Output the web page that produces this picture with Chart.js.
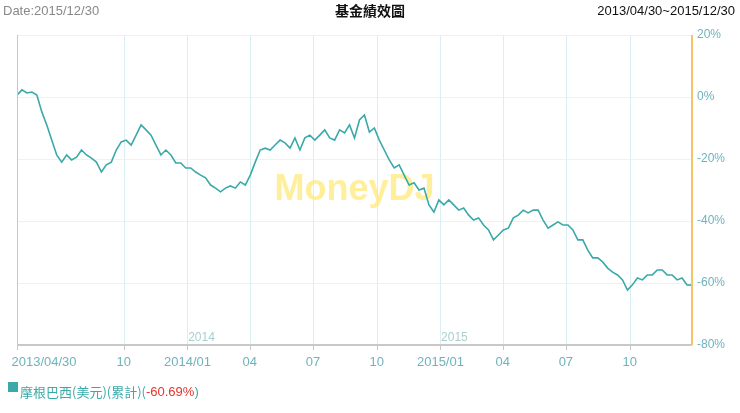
<!DOCTYPE html>
<html><head><meta charset="utf-8">
<script src="https://cdn.jsdelivr.net/npm/chart.js@4"></script>
<style>html,body{margin:0;padding:0;background:#fff}#w{width:740px;height:413px;position:relative}</style>
</head><body><div id="w"><canvas id="c"></canvas></div>
<script>
const seriesName='摩根巴西(美元)(累計)';
const lastReturn='-60.69%';
const values=[0.6,2.3,1.3,1.6,0.6,-4.8,-9.0,-13.9,-18.7,-21.0,-18.7,-20.3,-19.4,-17.1,-18.7,-19.7,-21.0,-24.2,-21.9,-21.0,-17.1,-14.5,-13.9,-15.5,-12.3,-9.0,-10.6,-12.3,-15.5,-18.7,-17.1,-18.7,-21.3,-21.3,-22.9,-22.9,-24.2,-25.2,-26.1,-28.4,-29.4,-30.6,-29.4,-28.7,-29.4,-27.4,-28.4,-25.2,-21.0,-17.1,-16.5,-17.1,-15.5,-13.9,-14.8,-16.5,-13.2,-17.1,-13.2,-12.3,-13.9,-12.3,-10.6,-13.2,-13.9,-10.6,-11.6,-9.0,-13.2,-7.4,-5.8,-11.3,-10.0,-13.9,-17.1,-20.3,-22.9,-21.9,-25.2,-28.4,-27.7,-30.0,-29.4,-34.8,-37.1,-33.2,-34.8,-33.2,-34.8,-36.5,-35.8,-38.1,-39.7,-39.0,-41.3,-42.9,-46.1,-44.5,-42.9,-42.3,-39.0,-38.1,-36.5,-37.4,-36.5,-36.5,-39.7,-42.3,-41.3,-40.3,-41.3,-41.3,-42.9,-46.1,-46.1,-49.4,-51.9,-51.9,-53.2,-55.2,-56.5,-57.4,-59.0,-62.3,-60.6,-58.4,-59.0,-57.4,-57.4,-55.8,-55.8,-57.4,-57.4,-59.0,-58.4,-60.6,-60.69];
const tickFractions=[0,154/974,246/974,336/974,427/974,519/974,611/974,701/974,792/974,884/974];
const tickLabels=['2013/04/30','10','2014/01','04','07','10','2015/01','04','07','10'];
const yTicks=[20,0,-20,-40,-60,-80];
const yearLabels=['2014','2015'];
const yearFractions=[246/974,611/974];

const N=values.length-1;
const pts=values.map((v,i)=>({x:i,y:v}));
const deco={id:'deco',
 beforeDatasetsDraw(ch){const c=ch.ctx,a=ch.chartArea,xs=ch.scales.x,ys=ch.scales.y;c.save();
  c.strokeStyle='#f1f1f1';c.lineWidth=1;
  yTicks.forEach(t=>{const y=Math.round(ys.getPixelForValue(t))+0.5;c.beginPath();c.moveTo(a.left,y);c.lineTo(a.right,y);c.stroke();});
  c.strokeStyle='#d9eff1';
  tickFractions.forEach(f=>{const x=Math.round(xs.getPixelForValue(f*N))+0.5;c.beginPath();c.moveTo(x,a.top);c.lineTo(x,a.bottom);c.stroke();});
  c.fillStyle='rgba(255,232,120,0.75)';c.font='bold 36px Arial, "Liberation Sans", sans-serif';c.textAlign='center';c.textBaseline='middle';
  c.fillText('MoneyDJ',(a.left+a.right)/2,190);
  c.fillStyle='#a9cfcf';c.font='12px "Liberation Sans", Arial, sans-serif';c.textBaseline='bottom';
  yearFractions.forEach((f,i)=>c.fillText(yearLabels[i],xs.getPixelForValue(f*N)+14,a.bottom-1));
  c.restore();},
 afterDatasetsDraw(ch){const c=ch.ctx,a=ch.chartArea,xs=ch.scales.x,ys=ch.scales.y;c.save();
  c.strokeStyle='#c8c8c8';c.lineWidth=2;c.beginPath();c.moveTo(a.left,a.bottom);c.lineTo(a.right,a.bottom);c.stroke();
  c.lineWidth=1;c.beginPath();c.moveTo(a.left+0.5,a.top);c.lineTo(a.left+0.5,a.bottom+5);c.stroke();
  tickFractions.forEach(f=>{const x=Math.round(xs.getPixelForValue(f*N))+0.5;c.beginPath();c.moveTo(x,a.bottom);c.lineTo(x,a.bottom+5);c.stroke();});
  c.strokeStyle='#f5c266';c.lineWidth=2;c.beginPath();c.moveTo(a.right,a.top);c.lineTo(a.right,a.bottom);c.stroke();
  c.font='12px "Liberation Sans", Arial, sans-serif';c.fillStyle='#6fb3bd';c.textBaseline='middle';c.textAlign='left';
  yTicks.forEach(t=>c.fillText(t+'%',a.right+5,ys.getPixelForValue(t)));
  c.textAlign='center';c.textBaseline='top';c.font='13px "Liberation Sans", Arial, sans-serif';
  tickFractions.forEach((f,i)=>{let x=xs.getPixelForValue(f*N);if(i===0)x=a.left+27;c.fillText(tickLabels[i],x,a.bottom+11);});
  c.font='13px "Liberation Sans", Arial, sans-serif';c.textBaseline='middle';
  c.textAlign='left';c.fillStyle='#888';c.fillText('Date:2015/12/30',3,11);
  c.textAlign='right';c.fillStyle='#111';c.fillText('2013/04/30~2015/12/30',735,11);
  c.textAlign='center';c.font='bold 14px "Noto Sans CJK TC", sans-serif';c.fillText('基金績效圖',370,11);
  c.fillStyle='#3aa9a8';c.fillRect(8,382,10,10);
  c.textAlign='left';c.font='13px "Noto Sans CJK TC", sans-serif';c.fillText(seriesName+'(',20,392);
  const w=c.measureText(seriesName+'(').width;c.fillStyle='#e8332a';c.font='13px "Liberation Sans", Arial, sans-serif';c.fillText(lastReturn,20+w,392);
  const w2=c.measureText(lastReturn).width;c.fillStyle='#3aa9a8';c.fillText(')',20+w+w2,392);
  c.restore();}};
new Chart(document.getElementById('c'),{type:'line',
 data:{datasets:[{data:pts,borderColor:'#3aa9a8',borderWidth:1.6,pointRadius:0,tension:0,fill:false}]},
 options:{responsive:true,maintainAspectRatio:false,animation:false,
  layout:{padding:{left:17,right:48,top:35,bottom:68}},
  plugins:{legend:{display:false},tooltip:{enabled:false}},
  scales:{x:{type:'linear',min:0,max:N,display:false},y:{min:-80,max:20,display:false}}},
 plugins:[deco]});
</script></body></html>
